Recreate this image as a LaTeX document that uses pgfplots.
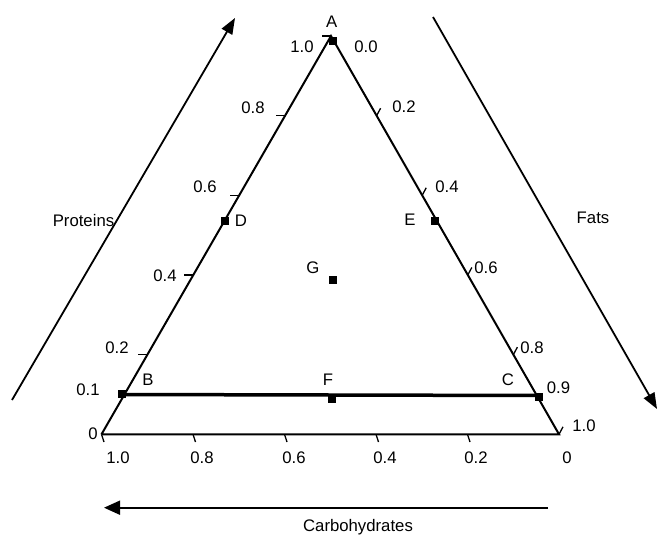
\documentclass[border=0pt]{standalone}
\usepackage{fontspec}
\setmainfont{Liberation Sans}
\usepackage{pgfplots}
\pgfplotsset{compat=1.18}
\usetikzlibrary{arrows.meta}
\newcommand\lf{\fontsize{16.8}{20}\selectfont}
\begin{document}
\lf
\begin{tikzpicture}[lbl/.style={font=\lf, inner sep=0pt, text depth=0pt, anchor=center}]
\begin{axis}[scale only axis, width=658bp, height=542bp,
  xmin=0, xmax=658, ymin=0, ymax=542, y dir=reverse,
  hide axis, clip=false]
\path (axis cs:0,0) rectangle (axis cs:658,542);
% triangle
\addplot[black, line width=2bp, line join=miter] coordinates {(101.5,434.3) (331,36) (559,434.3) (101.5,434.3)};
% B-C line
\addplot[black, line width=3.5bp] coordinates {(121.7,394.5) (539,395.5)};
% left ticks (proteins)
\addplot[black, line width=1.3bp] coordinates {(147.4,354.6) (138.4,354.6)};
\addplot[black, line width=1.3bp] coordinates {(193.3,275.0) (184.3,275.0)};
\addplot[black, line width=1.3bp] coordinates {(239.2,195.3) (230.2,195.3)};
\addplot[black, line width=1.3bp] coordinates {(285.1,115.7) (276.1,115.7)};
\addplot[black, line width=1.3bp] coordinates {(331,36) (322,36)};
% right ticks (fats)
\addplot[black, line width=1.3bp] coordinates {(376.6,115.7) (380.6,108.2)};
\addplot[black, line width=1.3bp] coordinates {(422.2,195.3) (426.2,187.8)};
\addplot[black, line width=1.3bp] coordinates {(467.8,275.0) (471.8,267.5)};
\addplot[black, line width=1.3bp] coordinates {(513.4,354.6) (517.4,347.1)};
\addplot[black, line width=1.3bp] coordinates {(559,434.3) (563,426.8)};
% bottom ticks (carbohydrates)
\addplot[black, line width=1.3bp] coordinates {(101.5,434.3) (104,442)};
\addplot[black, line width=1.3bp] coordinates {(193.0,434.3) (195.5,442)};
\addplot[black, line width=1.3bp] coordinates {(284.5,434.3) (287,442)};
\addplot[black, line width=1.3bp] coordinates {(376.0,434.3) (378.5,442)};
\addplot[black, line width=1.3bp] coordinates {(467.5,434.3) (470,442)};
% arrows
\addplot[black, line width=1.8bp, -{Triangle[length=16bp,width=12bp]}] coordinates {(12,400) (235,18)};
\addplot[black, line width=1.8bp, -{Triangle[length=16bp,width=12bp]}] coordinates {(433,17) (657,409)};
\addplot[black, line width=1.8bp, -{Triangle[length=16bp,width=14bp]}] coordinates {(548,507.7) (104,507.7)};
% points
\addplot[only marks, mark=square*, mark size=3.5, black] coordinates {
 (332.7,40.7) (121.7,393.8) (539,397) (225,220.7) (435,220.3) (332,399) (332.7,279.3)};
% point labels
\node[lbl] at (axis cs:331.7,21.7) {A};
\node[lbl] at (axis cs:148,380) {B};
\node[lbl] at (axis cs:508,380) {C};
\node[lbl] at (axis cs:241,220.5) {D};
\node[lbl] at (axis cs:410,220) {E};
\node[lbl] at (axis cs:328,380) {F};
\node[lbl] at (axis cs:313,268) {G};
% left labels
\node[lbl] at (axis cs:302,47) {1.0};
\node[lbl] at (axis cs:253,108) {0.8};
\node[lbl] at (axis cs:205,187) {0.6};
\node[lbl] at (axis cs:165,276) {0.4};
\node[lbl] at (axis cs:117,348) {0.2};
\node[lbl] at (axis cs:88,390) {0.1};
\node[lbl] at (axis cs:93,434) {0};
% right labels
\node[lbl] at (axis cs:366,47) {0.0};
\node[lbl] at (axis cs:404,107) {0.2};
\node[lbl] at (axis cs:447,187) {0.4};
\node[lbl] at (axis cs:486,268) {0.6};
\node[lbl] at (axis cs:532,348) {0.8};
\node[lbl] at (axis cs:558.5,388) {0.9};
\node[lbl] at (axis cs:584,426) {1.0};
% bottom labels
\node[lbl] at (axis cs:118,458) {1.0};
\node[lbl] at (axis cs:202,458) {0.8};
\node[lbl] at (axis cs:294,458) {0.6};
\node[lbl] at (axis cs:385,458) {0.4};
\node[lbl] at (axis cs:476,458) {0.2};
\node[lbl] at (axis cs:567,458) {0};
% axis titles
\node[lbl] at (axis cs:83.5,220) {Proteins};
\node[lbl] at (axis cs:593,218) {Fats};
\node[lbl] at (axis cs:358,525) {Carbohydrates};
\end{axis}
\end{tikzpicture}
\end{document}
